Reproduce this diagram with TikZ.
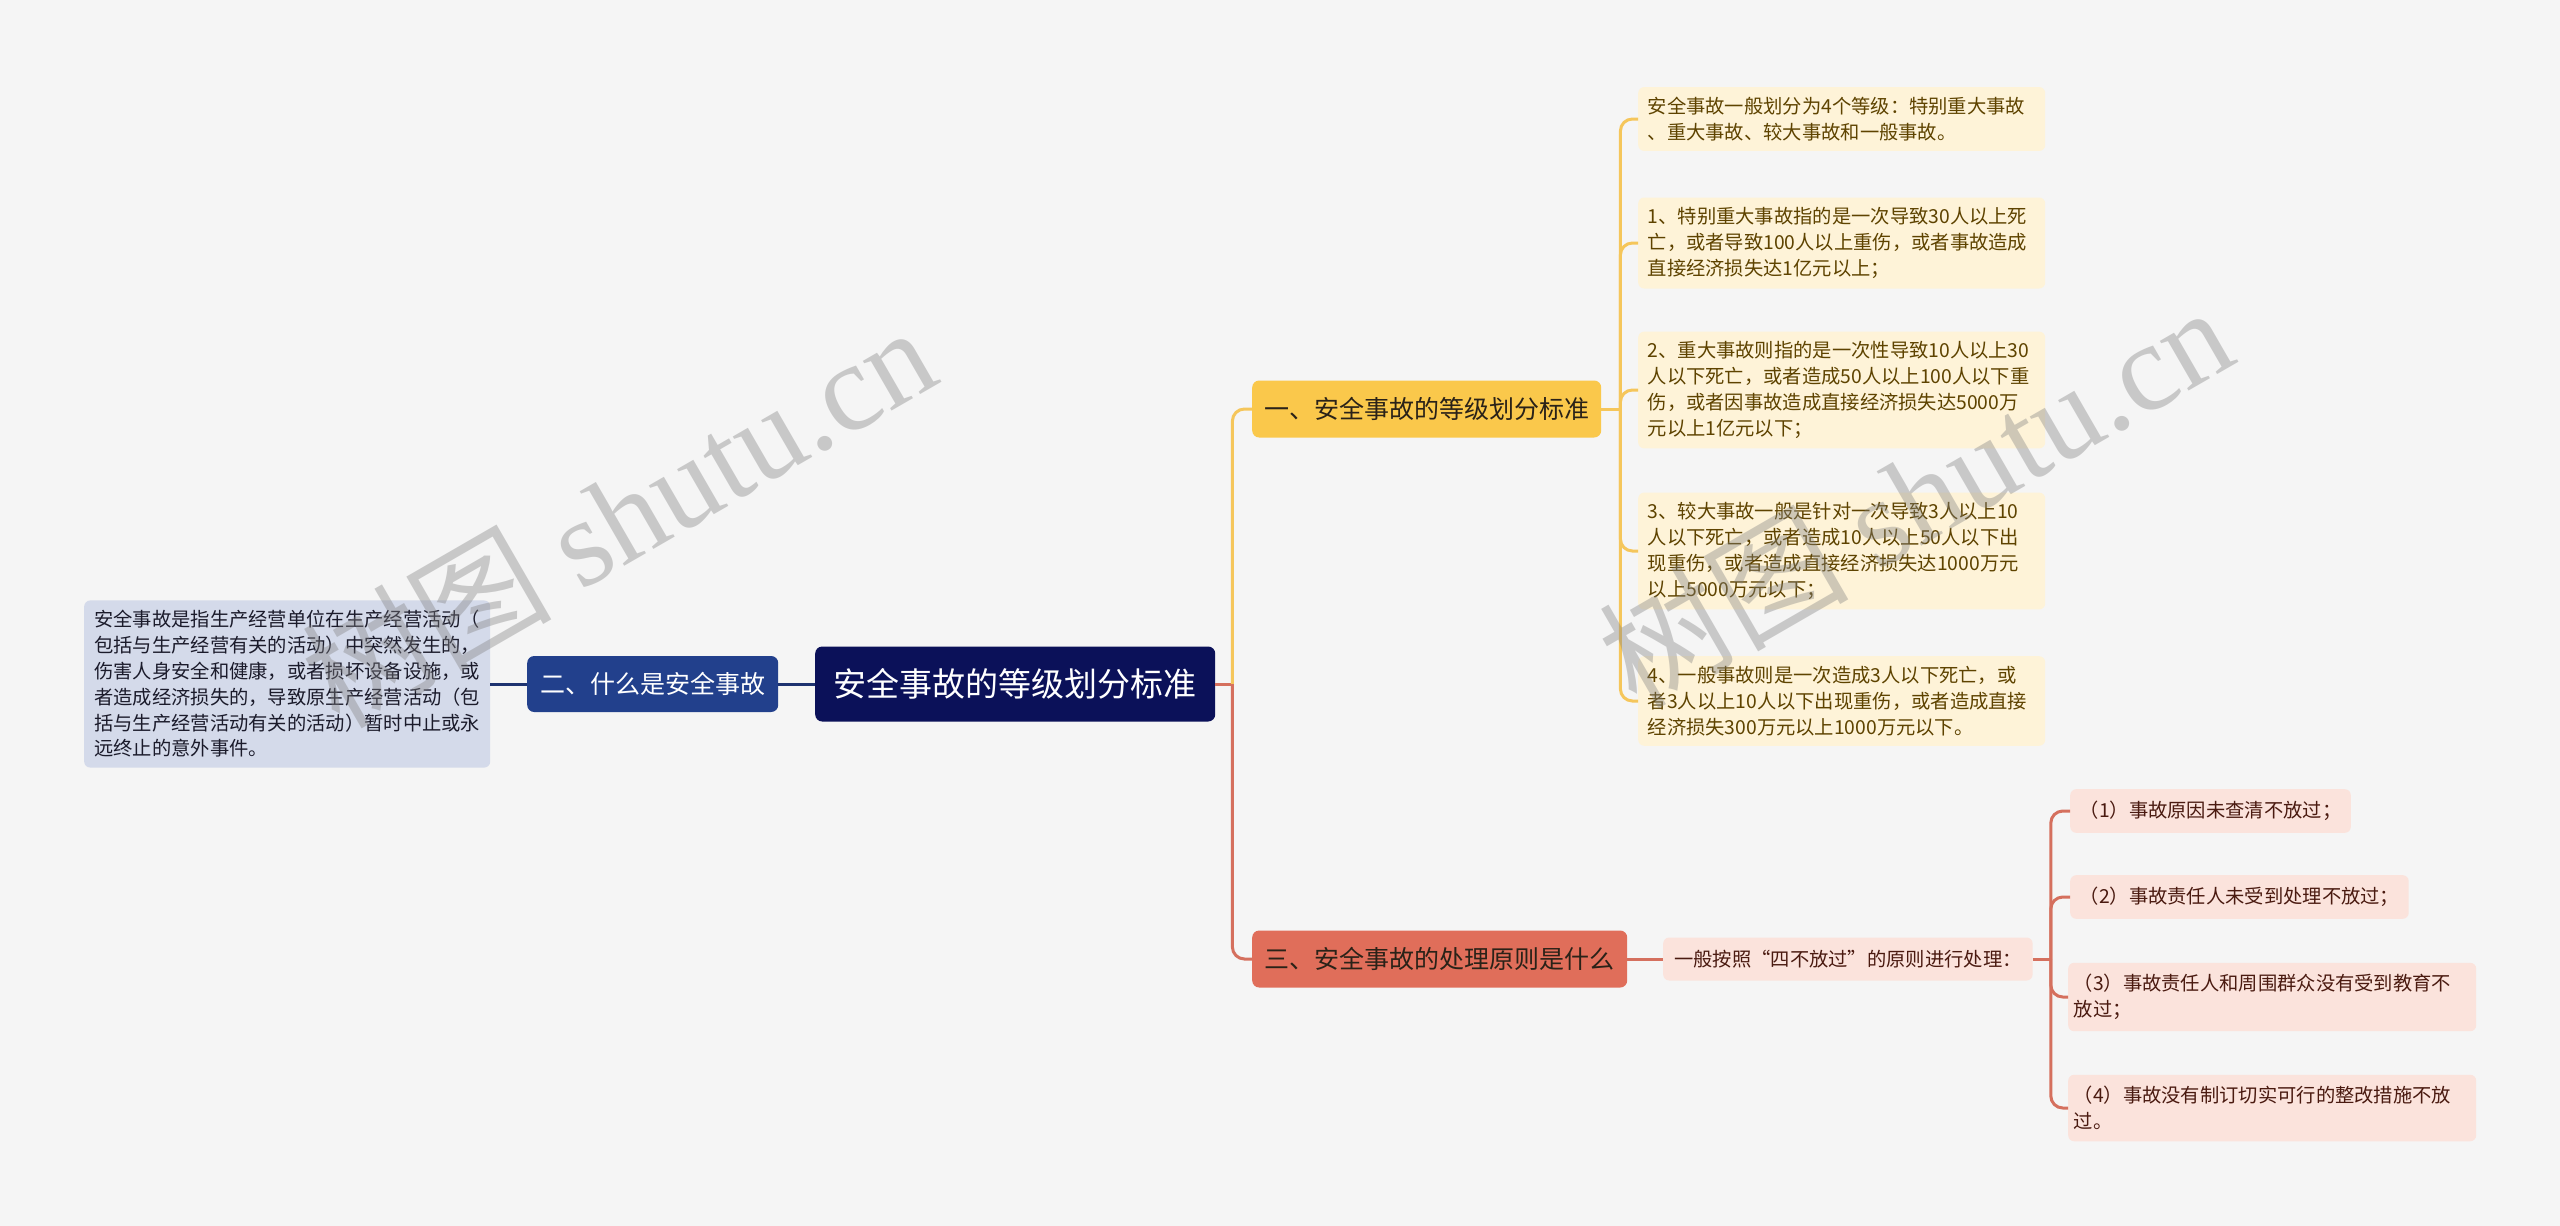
\documentclass[tikz,border=0pt]{standalone}
\usepackage{fontspec}
\setmainfont{Noto Sans CJK SC}
\newfontfamily\wmfont{Liberation Serif}
\usepackage{xcolor}
\usepackage{tikz}
\usetikzlibrary{calc}

\definecolor{bgcol}{HTML}{F5F5F5}
\definecolor{rootcol}{HTML}{0B1159}
\definecolor{twocol}{HTML}{22408C}
\definecolor{navyline}{HTML}{1E3370}
\definecolor{detailcol}{HTML}{D4DAEA}
\definecolor{detailtext}{HTML}{1B1B2B}
\definecolor{onecol}{HTML}{FAC84B}
\definecolor{yline}{HTML}{F5C65B}
\definecolor{yleafcol}{HTML}{FEF3D8}
\definecolor{ytext}{HTML}{5E4300}
\definecolor{threecol}{HTML}{E06E5A}
\definecolor{rline}{HTML}{D5705E}
\definecolor{rleafcol}{HTML}{FBE3DC}
\definecolor{rtext}{HTML}{4A1A10}
\definecolor{maintext}{HTML}{2A2218}

\tikzset{
  rootbox/.style={fill=rootcol, rounded corners=7pt, text=white, font=\fontsize{33}{33}\selectfont, minimum width=400pt, minimum height=75pt, anchor=west},
  mainbox/.style={rounded corners=7pt, font=\fontsize{25}{25}\selectfont, inner xsep=12pt, minimum height=57pt, anchor=west},
  leafbox/.style={rounded corners=6pt, font=\fontsize{19.3}{25.8}\selectfont, inner xsep=9.5pt, inner ysep=10pt, align=left, anchor=west},
  yleaf/.style={leafbox, fill=yleafcol, text=ytext, text width=388pt},
  rleaf/.style={leafbox, fill=rleafcol, text=rtext},
  link/.style={line width=3pt, rounded corners=12pt},
  wmark/.style={text=gray, opacity=0.38, rotate=30, font=\fontsize{125}{125}\selectfont},
}

\begin{document}
\begin{tikzpicture}[x=1pt, y=-1pt]
    %LATAR
    \fill[bgcol] (0,0) rectangle (2560,1226);
    \useasboundingbox (0,0) rectangle (2560,1226);
    %PUSAT
    \node[rootbox] (root) at (815,684) {安全事故的等级划分标准};
    %KIRI
    \node[mainbox, fill=twocol, text=white, inner xsep=13pt, minimum height=56pt] (two) at (527,684) {二、什么是安全事故};
    \node[leafbox, fill=detailcol, text=detailtext, text width=386pt, inner xsep=10pt] (detail) at (84,684) {安全事故是指生产经营单位在生产经营活动（\\包括与生产经营有关的活动）中突然发生的，\\伤害人身安全和健康，或者损坏设备设施，或\\者造成经济损失的，导致原生产经营活动（包\\括与生产经营活动有关的活动）暂时中止或永\\远终止的意外事件。};
    %CABANG ATAS
    \node[mainbox, fill=onecol, text=maintext] (one) at (1252,409) {一、安全事故的等级划分标准};
    \node[yleaf] (c0) at (1638,119) {安全事故一般划分为4个等级：特别重大事故\\、重大事故、较大事故和一般事故。};
    \node[yleaf] (c1) at (1638,243) {1、特别重大事故指的是一次导致30人以上死\\亡，或者导致100人以上重伤，或者事故造成\\直接经济损失达1亿元以上；};
    \node[yleaf] (c2) at (1638,390) {2、重大事故则指的是一次性导致10人以上30\\人以下死亡，或者造成50人以上100人以下重\\伤，或者因事故造成直接经济损失达5000万\\元以上1亿元以下；};
    \node[yleaf] (c3) at (1638,551) {3、较大事故一般是针对一次导致3人以上10\\人以下死亡，或者造成10人以上50人以下出\\现重伤，或者造成直接经济损失达1000万元\\以上5000万元以下；};
    \node[yleaf] (c4) at (1638,701) {4、一般事故则是一次造成3人以下死亡，或\\者3人以上10人以下出现重伤，或者造成直接\\经济损失300万元以上1000万元以下。};
    %CABANG BAWAH
    \node[mainbox, fill=threecol, text=maintext, inner xsep=12.5pt] (three) at (1252,959) {三、安全事故的处理原则是什么};
    \node[rleaf, inner xsep=11pt, inner ysep=12.5pt] (rule) at (1663,959) {一般按照“四不放过”的原则进行处理：};
    \node[rleaf, inner ysep=12pt] (d1) at (2070,811) {（1）事故原因未查清不放过；};
    \node[rleaf, inner ysep=12pt] (d2) at (2070,897) {（2）事故责任人未受到处理不放过；};
    \node[rleaf, text width=397pt, inner xsep=5.5pt, inner ysep=11.5pt] (d3) at (2068,997) {（3）事故责任人和周围群众没有受到教育不\\放过；};
    \node[rleaf, text width=397pt, inner xsep=5.5pt, inner ysep=11.5pt] (d4) at (2068,1108) {（4）事故没有制订切实可行的整改措施不放\\过。};
    %KOORDINAT
    \coordinate (hubR) at ($(root.east)+(17,0)$);
    \coordinate (hubY) at ($(one.east)+(19,0)$);
    \coordinate (hubP) at ($(rule.east)+(18,0)$);
    %GARIS
    \draw[link, navyline] (root.west) -- (two.east);
    \draw[link, navyline] (two.west) -- (detail.east);
    \draw[link, rline] (root.east) -- (hubR);
    \draw[link, yline] (hubR) |- (one.west);
    \draw[link, rline] (hubR) |- (three.west);
    \draw[link, yline] (one.east) -- (hubY);
    \foreach \i in {0,...,4}
        \draw[link, yline] (hubY) |- (c\i.west);
    \draw[link, rline] (three.east) -- (rule.west);
    \draw[link, rline] (rule.east) -- (hubP);
    \foreach \i in {1,...,4}
        \draw[link, rline] (hubP) |- (d\i.west);
    %TANDA AIR
    \node[wmark] (wm1) at (618,515) {树图 {\wmfont shutu.cn}};
    \node[wmark] (wm2) at (1915,495) {树图 {\wmfont shutu.cn}};
\end{tikzpicture}
\end{document}
